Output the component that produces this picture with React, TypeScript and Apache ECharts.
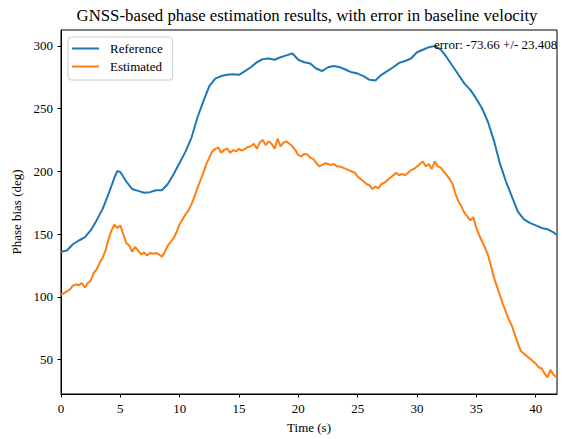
import React, { useEffect, useRef } from "react";
import * as echarts from "echarts";

const titleText = "GNSS-based phase estimation results, with error in baseline velocity";
const errorText = "error: -73.66 +/- 23.408";
const xTicks = [0, 5, 10, 15, 20, 25, 30, 35, 40];
const yTicks = [50, 100, 150, 200, 250, 300];

const refTimes = [
  0, 0.5, 1, 1.5, 2, 2.5, 3, 3.5, 4, 4.5, 4.75, 5, 5.5, 6, 6.5, 7, 7.5, 8, 8.5, 9, 9.5,
  10, 10.5, 11, 11.5, 12, 12.5, 13, 13.5, 14, 14.5, 15, 15.5, 16, 16.5, 17, 17.5, 18, 18.5, 19, 19.5,
  20, 20.5, 21, 21.5, 22, 22.5, 23, 23.5, 24, 24.5, 25, 25.5, 26, 26.5, 27, 27.5, 28, 28.5, 29, 29.5,
  30, 30.5, 31, 31.5, 32, 32.5, 33, 33.5, 34, 34.5, 35, 35.5, 36, 36.5, 37, 37.5, 38, 38.5, 39, 39.5,
  40, 40.5, 41, 41.5, 41.75,
];
const refValues = [
  136, 137, 142, 145, 147.5, 153, 161, 170, 182, 195, 200.5, 199.5, 192, 186, 184.5, 183, 183.5, 185, 185, 190, 198,
  207, 216, 227, 243, 256, 268, 274, 276, 277, 277.5, 277, 280, 283, 287, 289.5, 290, 289, 291, 292.5, 294,
  289, 287, 286, 282, 280, 283, 284, 283, 281, 279, 278, 276, 273, 272.5, 277, 280, 283, 286.5, 288, 290,
  295, 297, 299, 300, 297, 291, 284, 277, 270, 265, 258, 250, 239, 224, 206, 192, 180, 168, 162, 159,
  157, 155, 154, 151.5, 149.5,
];

const estTimes = [
  0, 0.25, 0.5, 0.75, 1, 1.25, 1.5, 1.75, 2, 2.25, 2.5, 2.75, 3, 3.25, 3.5, 3.75, 4, 4.25, 4.5, 4.75,
  5, 5.25, 5.5, 5.75, 6, 6.25, 6.5, 6.75, 7, 7.25, 7.5, 7.75, 8, 8.25, 8.5, 8.75, 9, 9.25, 9.5, 9.75,
  10, 10.25, 10.5, 10.75, 11, 11.25, 11.5, 11.75, 12, 12.25, 12.5, 12.75, 13, 13.25, 13.5, 13.75, 14, 14.25, 14.5, 14.75,
  15, 15.25, 15.5, 15.75, 16, 16.25, 16.5, 16.75, 17, 17.25, 17.5, 17.75, 18, 18.25, 18.5, 18.75, 19, 19.25, 19.5, 19.75,
  20, 20.25, 20.5, 20.75, 21, 21.25, 21.5, 21.75, 22, 22.25, 22.5, 22.75, 23, 23.25, 23.5, 23.75, 24, 24.25, 24.5, 24.75,
  25, 25.25, 25.5, 25.75, 26, 26.25, 26.5, 26.75, 27, 27.25, 27.5, 27.75, 28, 28.25, 28.5, 28.75, 29, 29.25, 29.5, 29.75,
  30, 30.25, 30.5, 30.75, 31, 31.25, 31.5, 31.75, 32, 32.25, 32.5, 32.75, 33, 33.25, 33.5, 33.75, 34, 34.25, 34.5, 34.75,
  35, 35.25, 35.5, 35.75, 36, 36.25, 36.5, 36.75, 37, 37.25, 37.5, 37.75, 38, 38.25, 38.5, 38.75, 39, 39.25, 39.5, 39.75,
  40, 40.25, 40.5, 40.75, 41, 41.25, 41.5, 41.75,
];
const estValues = [
  102, 103, 104.5, 106, 109, 110, 109.5, 111, 107.5, 111, 113, 119, 122, 127, 131, 137, 146, 153, 157.5, 155,
  157, 150, 143, 141, 136, 140, 137, 134, 135.5, 133, 135, 134.5, 135, 134, 132, 136, 141, 144, 147, 152,
  158, 162, 166, 169, 174, 180, 187, 193, 199, 206, 211, 216, 218, 219, 215, 217, 218.5, 215, 217, 216,
  218, 216.5, 218, 219.5, 220, 222, 218, 223, 225, 221, 224, 222, 218, 226, 220, 223, 224, 222, 220, 217,
  213, 212, 214, 213.5, 211, 210, 207, 204, 205, 206.5, 206, 205, 206, 204, 204, 203, 202, 201, 200, 199,
  196, 194, 192, 190, 189, 186, 188, 186.5, 190, 191, 193, 195, 197, 199, 197, 198, 197, 199, 201, 202,
  204, 206, 208, 204, 206, 202, 208, 204, 203, 200, 197, 194, 190, 182, 176, 172, 167, 164, 161, 163.5,
  155, 149, 144, 139, 133, 124, 115, 108, 101, 94, 88, 82, 77, 70, 63, 57, 55, 53, 51, 49,
  47, 44, 43, 39, 36, 42, 38, 36,
];

const FONT = "Liberation Serif";

export default function App() {
  const ref = useRef<HTMLDivElement>(null);
  useEffect(() => {
    if (!ref.current) return;
    const chart = echarts.init(ref.current, null, { renderer: "svg" });
    chart.setOption({
      animation: false,
      backgroundColor: "#ffffff",
      grid: {
        left: 61,
        right: 7,
        top: 30,
        bottom: 44,
        show: true,
        borderColor: "#000000",
        borderWidth: 1,
        backgroundColor: "transparent",
      },
      legend: {
        orient: "vertical",
        left: 68,
        top: 37,
        padding: [4, 10, 6, 4],
        itemGap: 3,
        itemWidth: 27,
        itemHeight: 2,
        borderColor: "#cccccc",
        borderWidth: 1,
        borderRadius: 3,
        backgroundColor: "rgba(255,255,255,0.8)",
        textStyle: { fontFamily: FONT, fontSize: 13, color: "#000", lineHeight: 15, padding: [0, 0, 0, 6] },
        data: [
          { name: "Reference", icon: "rect" },
          { name: "Estimated", icon: "rect" },
        ],
      },
      xAxis: {
        type: "value",
        min: 0,
        max: 41.8,
        name: "Time (s)",
        nameLocation: "middle",
        nameGap: 27,
        nameTextStyle: { fontFamily: FONT, fontSize: 13, color: "#000" },
        axisLine: { show: true, lineStyle: { color: "#000", width: 1 } },
        axisTick: { show: true, length: 3.5, customValues: xTicks, lineStyle: { color: "#000" } },
        axisLabel: { customValues: xTicks, fontFamily: FONT, fontSize: 13, color: "#000", margin: 8 },
        splitLine: { show: false },
      },
      yAxis: {
        type: "value",
        min: 22.7,
        max: 312.7,
        name: "Phase bias (deg)",
        nameLocation: "middle",
        nameGap: 35,
        nameTextStyle: { fontFamily: FONT, fontSize: 13, color: "#000" },
        axisLine: { show: true, lineStyle: { color: "#000", width: 1 } },
        axisTick: { show: true, length: 3.5, customValues: yTicks, lineStyle: { color: "#000" } },
        axisLabel: { customValues: yTicks, fontFamily: FONT, fontSize: 13, color: "#000", margin: 8 },
        splitLine: { show: false },
      },
      series: [
        {
          name: "Reference",
          type: "line",
          showSymbol: false,
          symbol: "none",
          data: refTimes.map((t, i) => [t, refValues[i]]),
          lineStyle: { color: "#1f77b4", width: 2 },
          itemStyle: { color: "#1f77b4" },
        },
        {
          name: "Estimated",
          type: "line",
          showSymbol: false,
          symbol: "none",
          data: estTimes.map((t, i) => [t, estValues[i]]),
          lineStyle: { color: "#ff7f0e", width: 2 },
          itemStyle: { color: "#ff7f0e" },
        },
      ],
      graphic: [
        {
          type: "text",
          x: 307,
          y: 15,
          style: {
            text: titleText,
            fontFamily: FONT,
            fontSize: 16.8,
            fill: "#000",
            textAlign: "center",
            textVerticalAlign: "middle",
          },
        },
        {
          type: "text",
          x: 434,
          y: 44,
          z: 100,
          style: {
            text: errorText,
            fontFamily: FONT,
            fontSize: 13,
            fill: "#000",
            textAlign: "left",
            textVerticalAlign: "middle",
          },
        },
      ],
    });
    return () => chart.dispose();
  }, []);
  return (
    <div
      ref={ref}
      style={{ position: "fixed", left: 0, top: 0, width: 564, height: 439 }}
    />
  );
}
